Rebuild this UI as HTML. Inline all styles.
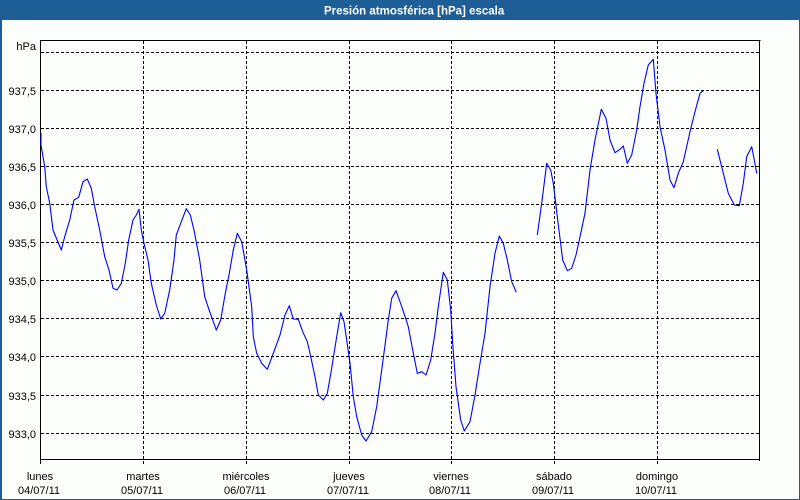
<!DOCTYPE html>
<html>
<head>
<meta charset="utf-8">
<style>
  html,body{margin:0;padding:0;background:#fcfefc;}
  svg{display:block;}
  text{font-family:"Liberation Sans",Arial,sans-serif;}
</style>
</head>
<body>
<svg width="800" height="500" viewBox="0 0 800 500" xmlns="http://www.w3.org/2000/svg">
  <rect x="0" y="0" width="800" height="500" fill="#fcfefc"/>
  <!-- outer border -->
  <rect x="0.5" y="0.5" width="799" height="499" fill="none" stroke="#1e5e96" stroke-width="1"/>
  <rect x="0" y="0" width="2" height="500" fill="#1e5e96"/>
  <!-- title bar -->
  <rect x="0" y="0" width="800" height="20" fill="#1e5e96"/>
  <text x="324" y="14.5" font-size="11.5" font-weight="bold" fill="#ffffff">Presión atmosférica [hPa] escala</text>

  <g shape-rendering="crispEdges" stroke="#000" stroke-width="1" fill="none">
    <!-- horizontal gridlines -->
    <g stroke-dasharray="3,2">
      <line x1="41" y1="52.5" x2="760" y2="52.5"/>
      <line x1="41" y1="90.5" x2="760" y2="90.5"/>
      <line x1="41" y1="128.5" x2="760" y2="128.5"/>
      <line x1="41" y1="166.5" x2="760" y2="166.5"/>
      <line x1="41" y1="204.5" x2="760" y2="204.5"/>
      <line x1="41" y1="242.5" x2="760" y2="242.5"/>
      <line x1="41" y1="280.5" x2="760" y2="280.5"/>
      <line x1="41" y1="318.5" x2="760" y2="318.5"/>
      <line x1="41" y1="356.5" x2="760" y2="356.5"/>
      <line x1="41" y1="395.5" x2="760" y2="395.5"/>
      <line x1="41" y1="433.5" x2="760" y2="433.5"/>
      <!-- vertical gridlines -->
      <line x1="143.5" y1="41" x2="143.5" y2="464"/>
      <line x1="246.5" y1="41" x2="246.5" y2="464"/>
      <line x1="349.5" y1="41" x2="349.5" y2="464"/>
      <line x1="451.5" y1="41" x2="451.5" y2="464"/>
      <line x1="554.5" y1="41" x2="554.5" y2="464"/>
      <line x1="657.5" y1="41" x2="657.5" y2="464"/>
    </g>
    <!-- frame -->
    <line x1="40.5" y1="40" x2="40.5" y2="464"/>
    <line x1="40" y1="40.5" x2="760.5" y2="40.5"/>
    <line x1="759.5" y1="40" x2="759.5" y2="461"/>
    <line x1="40" y1="459.5" x2="760" y2="459.5"/>
  </g>

  <!-- y labels -->
  <g font-size="11" fill="#000" text-anchor="end">
    <text x="36" y="50">hPa</text>
    <text x="36" y="95">937,5</text>
    <text x="36" y="133">937,0</text>
    <text x="36" y="171">936,5</text>
    <text x="36" y="209">936,0</text>
    <text x="36" y="247">935,5</text>
    <text x="36" y="285">935,0</text>
    <text x="36" y="323">934,5</text>
    <text x="36" y="361">934,0</text>
    <text x="36" y="400">933,5</text>
    <text x="36" y="438">933,0</text>
  </g>

  <!-- x labels -->
  <g font-size="11" fill="#000" text-anchor="middle">
    <text x="40" y="480">lunes</text><text x="39" y="494">04/07/11</text>
    <text x="143" y="480">martes</text><text x="142" y="494">05/07/11</text>
    <text x="246" y="480">miércoles</text><text x="245" y="494">06/07/11</text>
    <text x="349" y="480">jueves</text><text x="348" y="494">07/07/11</text>
    <text x="451" y="480">viernes</text><text x="450" y="494">08/07/11</text>
    <text x="554" y="480">sábado</text><text x="553" y="494">09/07/11</text>
    <text x="657" y="480">domingo</text><text x="656" y="494">10/07/11</text>
  </g>

  <!-- data series -->
  <g fill="none" stroke="#0000ff" stroke-width="1.1" stroke-linejoin="round">
    <polyline points="41,133 41,145 44.7,166.7 46.3,186.7 49.7,203 53,230 56.3,238 61.3,250 64.7,236.7 69.7,220 74,200 78.7,197.3 83,181.7 87.3,179 91.3,188.3 94.7,206.7 99.7,230 104.7,256.7 109,270 113,288.3 117,290 121.3,283.3 125.3,263.3 128.7,240 133,220 136.3,215 139,209.3 141.3,230 144,243.3 148,260 151.3,283.3 156.3,305 160.7,319 164.7,313.3 169.7,290 174,260 176.3,235 181.3,221.7 186.3,208.7 190.3,215 194,230 199.7,260 204.7,296.7 209.7,311.7 216.3,330 220.7,320 225,295 229.3,273.3 233.3,250 237.3,233.3 241.7,241.7 246.7,270 251.7,306.7 253.3,336.7 256.7,353.3 261.7,363.3 267.3,369.3 273.3,353.3 280,335 285,315 289.3,305.7 293.3,319 298.3,319.3 302.7,331.7 307.3,341.7 310,353.3 315,376.7 318.3,395 323.3,400 327.3,393.3 331.7,368.3 336.7,336.7 340.7,312.7 344,321.7 346.7,340 350,363.3 353.3,396.7 356.7,416.7 361.7,435 366,441 371.7,431.7 376.7,406.7 381.7,370 385.7,340 388.3,320 391.7,298.3 396,290.7 400,301.7 404,313.3 408.3,326.7 412.7,350 417.3,373.3 421.7,371.7 426,375 430.7,360 435,333.3 438.3,306.7 443.3,272.3 447.3,280 450.7,310 452.7,343.3 456,386.7 460.7,420 464.3,431 470,421.7 475,395 480,363.3 485,333.3 490,286.7 495,253.3 499.3,236 503.3,243.3 507.3,260 511.7,281.7 516.3,292.3"/>
    <polyline points="537.3,235 541.7,203.3 546.7,163.3 550.7,170 553.3,183.3 557.3,216.7 562.7,260 567.3,270.7 571.7,268.3 576,255 580,236.7 585,213.3 590,170 595,140 601.3,109.3 606,118.3 610,140 615,152.7 620,149.3 623.3,146 627.3,163.3 631.7,155 636.7,130 640,106.7 644,83.3 648.3,65 653.3,59.3 656,93.3 660,126.7 665,150 670,180 674,187.7 678.3,173.3 683.3,161.7 690,131.7 695,111.7 700,93.3 703.3,90.7"/>
    <polyline points="717.3,149.3 723.3,173.3 728.3,193.3 734.3,205 739.3,205.7 743.3,183.3 746.7,156.7 751.7,146.7 754.3,160 756.7,173.3"/>
  </g>
</svg>
</body>
</html>
